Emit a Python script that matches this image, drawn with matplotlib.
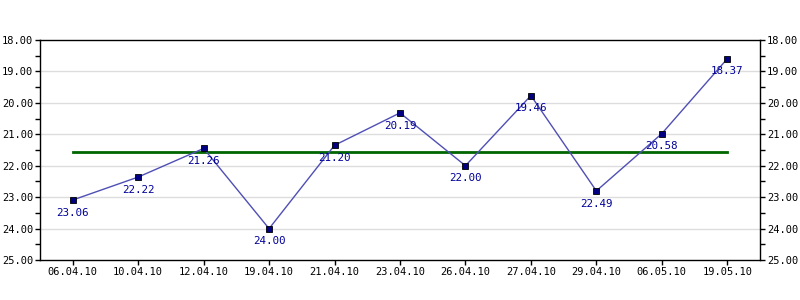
import matplotlib.pyplot as plt
import numpy as np

dates = ['06.04.10', '10.04.10', '12.04.10', '19.04.10', '21.04.10', '23.04.10',
         '26.04.10', '27.04.10', '29.04.10', '06.05.10', '19.05.10']
values = [23.09, 22.36, 21.45, 24.00, 21.35, 20.32, 22.00, 19.77, 22.80, 20.98, 18.60]
labels = ['23.06', '22.22', '21.26', '24.00', '21.20', '20.19',
          '22.00', '19.46', '22.49', '20.58', '18.37']
avg_level = 21.56

plt.rcParams['font.family'] = ['DejaVu Sans Mono']

fig = plt.figure(figsize=(8, 3), dpi=100)
ax = fig.add_axes([0.05, 0.133, 0.90, 0.734])

x = np.arange(len(dates))

ax.plot([x[0], x[-1]], [avg_level, avg_level], color='#006600', lw=2, zorder=2)
ax.plot(x, values, color='#4f4fb5', lw=1, zorder=3)
ax.plot(x, values, ls='none', marker='s', ms=4.5, mfc='#000080', mec='black',
        mew=0.6, zorder=4)

# value labels sit just under each point
for xi, v, t in zip(x, values, labels):
    ax.annotate(t, (xi, v), xytext=(0, -5.5), textcoords='offset points',
                ha='center', va='top', fontsize=7.8, color='#000099', zorder=5)

ax.set_xlim(-0.5, len(dates) - 0.5)
ax.set_ylim(25, 18)
ax.set_xticks(x)
ax.set_xticklabels(dates, fontsize=7.5)
yt = np.arange(18, 26)
ax.set_yticks(yt)
ax.set_yticklabels([f'{v:.2f}' for v in yt], fontsize=7.5)
ax.set_yticks(np.arange(18.5, 25, 1), minor=True)
ax.tick_params(axis='both', which='both', direction='out', length=3.5, width=1)
ax.tick_params(axis='y', which='both', right=True, labelright=True, pad=1.5)
ax.tick_params(axis='x', pad=1.5)

for g in range(19, 25):
    ax.axhline(g, color='#dddddd', lw=1, zorder=1)

for s in ax.spines.values():
    s.set_linewidth(1)
    s.set_color('black')

fig.savefig('out.png', dpi=100)
